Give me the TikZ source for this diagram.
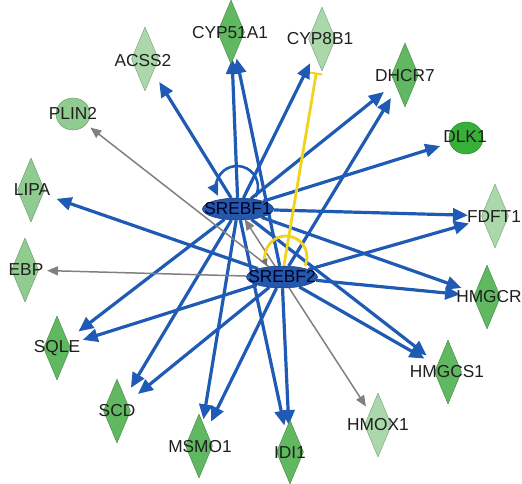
\documentclass[tikz,border=0pt]{standalone}
\usepackage{fontspec}
\setmainfont{Liberation Sans}
\usetikzlibrary{arrows.meta,shapes.geometric}
\pgfdeclarelayer{edges}
\pgfsetlayers{edges,main}
\definecolor{ipablue}{HTML}{1F5BB5}
\definecolor{ipafill}{HTML}{2358AC}
\definecolor{ipayellow}{HTML}{F2D21A}
\definecolor{lightg}{HTML}{AAD8AA}
\definecolor{midlg}{HTML}{90CC90}
\definecolor{medg}{HTML}{60B860}
\definecolor{darkg}{HTML}{36B036}
\tikzset{
  gdia/.style={diamond, draw=#1!70!black, fill=#1, line width=0.4pt,
    minimum width=27pt, minimum height=64pt, inner sep=0pt},
  gell/.style={ellipse, draw=#1!70!black, fill=#1, line width=0.4pt,
    minimum width=34pt, minimum height=32pt, inner sep=0pt},
  tf/.style={ellipse, draw=ipablue!70!black, fill=ipafill, line width=0.5pt,
    minimum width=71pt, minimum height=22pt, inner sep=0pt},
  lbl/.style={font=\fontsize{17.3}{19}\selectfont, text=black!88, inner sep=0pt},
  tflbl/.style={font=\fontsize{17.3}{19}\selectfont, text=black!85!blue, inner sep=0pt},
  be/.style={draw=ipablue, line width=3.2pt,
    -{Triangle[length=15pt,width=13pt]}, shorten >=27pt},
  ge/.style={draw=black!50, line width=1.5pt,
    -{Triangle[length=11pt,width=9pt]}, shorten >=22pt},
  ye/.style={draw=ipayellow, line width=2.8pt}
}
\begin{document}
\begin{tikzpicture}[x=1pt,y=1pt]
\useasboundingbox (0,0) rectangle (522,-484);
% transcription factors
\node[tf] (S1) at (238,-209) {};
\node[tf] (S2) at (282,-277) {};
\node[tflbl] (S1t) at (238,-209) {SREBF1};
\node[tflbl] (S2t) at (282,-277) {SREBF2};
% targets
\node[gdia=lightg] (ACSS2) at (145,-59) {};
\node[gdia=medg] (CYP51A1) at (231,-32) {};
\node[gdia=lightg] (CYP8B1) at (322,-39) {};
\node[gdia=medg] (DHCR7) at (405,-75) {};
\node[gell=midlg] (PLIN2) at (73,-114) {};
\node[gell=darkg] (DLK1) at (466,-138) {};
\node[gdia=midlg] (LIPA) at (31,-190) {};
\node[gdia=midlg] (EBP) at (25,-270) {};
\node[gdia=lightg] (FDFT1) at (495,-216) {};
\node[gdia=medg] (HMGCR) at (487,-297) {};
\node[gdia=medg] (SQLE) at (57,-348) {};
\node[gdia=medg] (HMGCS1) at (448,-372) {};
\node[gdia=medg] (SCD) at (117,-411) {};
\node[gdia=medg] (MSMO1) at (199,-446) {};
\node[gdia=medg] (IDI1) at (290,-452) {};
\node[gdia=lightg] (HMOX1) at (378,-425) {};
% labels
\node[lbl] (ACSS2t) at (143,-61) {ACSS2};
\node[lbl] (CYP51A1t) at (230,-33) {CYP51A1};
\node[lbl] (CYP8B1t) at (320,-39) {CYP8B1};
\node[lbl] (DHCR7t) at (405,-76) {DHCR7};
\node[lbl] (PLIN2t) at (73,-113) {PLIN2};
\node[lbl] (DLK1t) at (465,-137) {DLK1};
\node[lbl] (LIPAt) at (32,-190) {LIPA};
\node[lbl] (EBPt) at (26,-270) {EBP};
\node[lbl] (FDFT1t) at (494,-217) {FDFT1};
\node[lbl] (HMGCRt) at (489,-297) {HMGCR};
\node[lbl] (SQLEt) at (57,-348) {SQLE};
\node[lbl] (HMGCS1t) at (447,-372) {HMGCS1};
\node[lbl] (SCDt) at (117,-411) {SCD};
\node[lbl] (MSMO1t) at (200,-447) {MSMO1};
\node[lbl] (IDI1t) at (290,-453) {IDI1};
\node[lbl] (HMOX1t) at (378,-425) {HMOX1};
\begin{pgfonlayer}{edges}
% SREBF1 targets
\foreach \t in {ACSS2,CYP51A1,CYP8B1,DHCR7,DLK1,FDFT1,HMGCR,HMGCS1,SQLE,SCD,MSMO1,IDI1}
  \draw[be] (S1) -- (\t.center);
% SREBF2 targets
\foreach \t in {CYP51A1,DHCR7,LIPA,FDFT1,HMGCR,HMGCS1,SQLE,SCD,MSMO1,IDI1}
  \draw[be] (S2) -- (\t.center);
% gray edges
\draw[ge] (S2) -- (PLIN2.center);
\draw[ge] (S2) -- (EBP.center);
\draw[ge] (S2) -- (HMOX1.center);
\draw[ge, shorten >=12pt] (S2.center) -- (S1.center);
% yellow inhibition
\draw[ye, -{Bar[width=12pt,line width=2pt]}, shorten >=34pt] (S2) -- (CYP8B1.center);
% self loops
\draw[draw=ipablue, line width=2.6pt, -{Triangle[length=12pt,width=11pt]}]
  ([shift={(-1,22)}]S1.center) ++(-28:21pt) arc[start angle=-28, end angle=205, radius=21pt];
\draw[ye, -{Triangle[length=7pt,width=7pt,color=black!55]}]
  ([shift={(4,20)}]S2.center) ++(-25:21pt) arc[start angle=-25, end angle=205, radius=21pt];
\end{pgfonlayer}
\end{tikzpicture}
\end{document}
